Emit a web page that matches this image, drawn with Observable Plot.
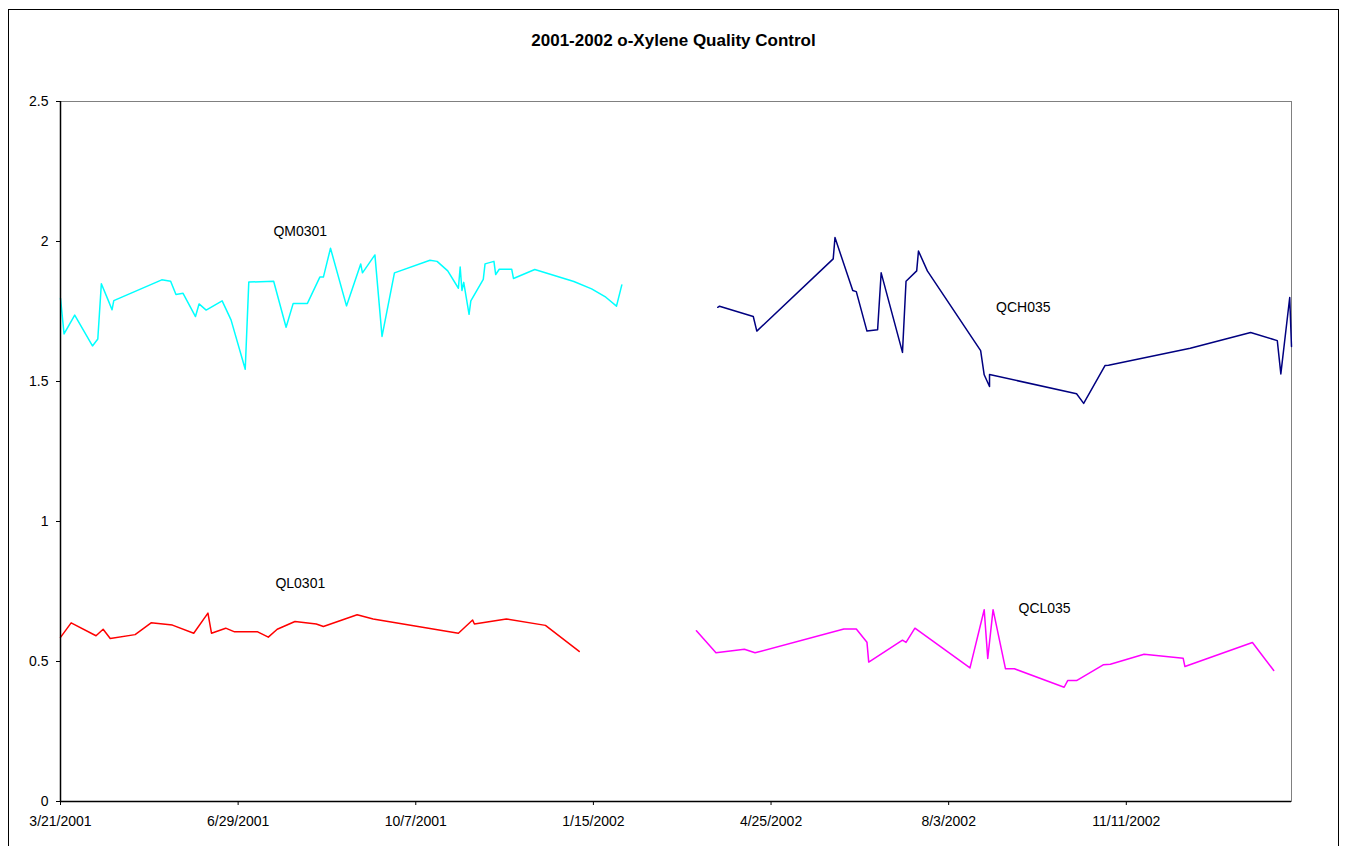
<!DOCTYPE html>
<html><head><meta charset="utf-8">
<script src="https://cdn.jsdelivr.net/npm/d3@7"></script>
<script src="https://cdn.jsdelivr.net/npm/@observablehq/plot@0.6"></script>
<style>
body{margin:0;background:#fff;font-family:"Liberation Sans",Arial,sans-serif;}
#wrap{position:relative;width:1347px;height:846px;overflow:hidden;background:#fff;}
#border{position:absolute;left:8px;top:9px;width:1331px;height:870px;border:1px solid #000;box-sizing:border-box;}
#title{position:absolute;top:31px;left:0;width:1347px;text-align:center;font-weight:bold;font-size:17px;color:#000;}
#chart{position:absolute;left:0;top:0;}
</style></head><body>
<div id="wrap"><div id="border"></div><div id="chart"></div><div id="title">2001-2002 o-Xylene Quality Control</div></div>
<script>
// Days counted from 3/21/2001 (the axis origin), values in the chart's units
const startDate = "2001-03-21";
const endDay = 693;

const qmDays = [0,2,8,18,21,23,27,29,30,57,62,65,69,76,78,82,91,96,104,106,120,127,131,139,146,148,152,161,169,170,177,181,188,208,212,218,224,225,226,227,230,231,238,239,244,245,247,254,255,267,289,299,307,313,316];
const qmVals = [1.797,1.67,1.737,1.627,1.652,1.849,1.788,1.756,1.789,1.863,1.858,1.811,1.815,1.732,1.777,1.755,1.788,1.72,1.544,1.855,1.858,1.694,1.779,1.779,1.873,1.873,1.976,1.77,1.92,1.888,1.952,1.661,1.888,1.933,1.929,1.895,1.833,1.909,1.825,1.854,1.74,1.788,1.865,1.92,1.929,1.882,1.901,1.901,1.868,1.9,1.857,1.831,1.801,1.769,1.845];

const qlDays = [0,6,20,24,28,42,51,63,75,83,85,93,98,111,117,122,132,144,148,167,176,224,232,233,251,273,292];
const qlVals = [0.586,0.638,0.592,0.615,0.582,0.596,0.638,0.63,0.601,0.673,0.601,0.619,0.606,0.606,0.587,0.615,0.643,0.634,0.625,0.667,0.652,0.601,0.648,0.634,0.652,0.629,0.536];

const qchDays = [370,371,390,392,435,436,446,448,454,460,462,474,476,482,483,488,518,520,523,523,572,576,588,590,636,670,685,687,692,693];
const qchVals = [1.765,1.769,1.732,1.68,1.938,2.014,1.825,1.821,1.68,1.685,1.888,1.604,1.858,1.895,1.966,1.895,1.61,1.524,1.482,1.525,1.456,1.422,1.557,1.558,1.619,1.675,1.646,1.527,1.8,1.625];

const qclDays = [358,369,385,391,441,448,454,455,474,476,481,512,520,522,525,532,537,565,567,572,587,591,610,632,633,671,683];
const qclVals = [0.61,0.531,0.544,0.531,0.616,0.616,0.569,0.498,0.576,0.568,0.619,0.477,0.685,0.511,0.685,0.474,0.474,0.408,0.432,0.432,0.488,0.49,0.526,0.512,0.482,0.568,0.468];

const seriesNames = ["QM0301","QL0301","QCH035","QCL035"];
const seriesColors = ["#00FFFF","#FF0000","#000080","#FF00FF"];
const labelDays = [135,135,542,554];
const labelVals = [2.035,0.778,1.766,0.689];

const xTickDates = ["2001-03-21","2001-06-29","2001-10-07","2002-01-15","2002-04-25","2002-08-03","2002-11-11"];
const yTicks = [0,0.5,1,1.5,2,2.5];

const t0 = d3.utcParse("%Y-%m-%d")(startDate);
const toDate = d => d3.utcDay.offset(t0, d);

function rows(days, vals, name){ return days.map((d,i)=>({date:toDate(d), value:vals[i], series:name})); }
const data = [
  ...rows(qmDays, qmVals, "QM0301"),
  ...rows(qlDays, qlVals, "QL0301"),
  ...rows(qchDays, qchVals, "QCH035"),
  ...rows(qclDays, qclVals, "QCL035")
];
const labels = seriesNames.map((n,i)=>({date:toDate(labelDays[i]), value:labelVals[i], text:n}));
const fmt = d3.utcFormat("%-m/%-d/%Y");

const chart = Plot.plot({
  width:1347, height:846,
  marginLeft:60, marginTop:101, marginRight:56, marginBottom:45,
  x:{type:"utc", domain:[t0, toDate(endDay)]},
  y:{domain:[0,2.5]},
  color:{domain:seriesNames, range:seriesColors},
  style:{fontFamily:'"Liberation Sans",Arial,sans-serif', fontSize:"14px", color:"#000", background:"transparent", overflow:"visible"},
  marks:[
    Plot.frame({stroke:"#808080"}),
    Plot.line(data, {x:"date", y:"value", z:"series", stroke:"series", strokeWidth:1.5}),
    Plot.ruleY([0], {stroke:"#000", strokeWidth:1.5}),
    Plot.ruleX([t0], {stroke:"#000", strokeWidth:1.5}),
    Plot.axisY({ticks:yTicks, tickSize:4, tickPadding:8, tickFormat:d=>String(d), label:null, stroke:"#000"}),
    Plot.axisX({ticks:xTickDates.map(s=>d3.utcParse("%Y-%m-%d")(s)), tickSize:4, tickPadding:11, tickFormat:fmt, label:null, stroke:"#000"}),
    Plot.text(labels, {x:"date", y:"value", text:"text", fill:"#000", fontSize:14})
  ]
});
document.getElementById("chart").appendChild(chart);
</script>
</body></html>
